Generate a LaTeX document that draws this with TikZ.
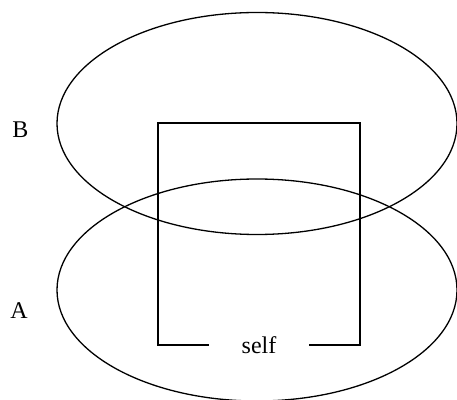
\documentclass[tikz,border=0pt]{standalone}
\usepackage{fontspec}
\setmainfont{Liberation Serif}
\usepackage{tikz}
\usetikzlibrary{shapes.geometric,positioning}

\begin{document}
\begin{tikzpicture}[x=1pt, y=1pt,
  setshape/.style={draw, ellipse, line width=1.3pt, inner sep=0pt, minimum width=400pt, minimum height=222pt},
  setlabel/.style={inner sep=0pt, font=\fontsize{24}{28}\selectfont},
  frame/.style={line width=1.3pt}
]
  \useasboundingbox (0,0) rectangle (457,399);
  \begin{scope}
    \clip (0,0) rectangle (457,399);
    \node[setshape] (setB) at (257,275.5) {};
    \node[setshape] (setA) at (257,109) {};
  \end{scope}
  \node[setlabel] (labB) at (20.5,269) {B};
  \node[setlabel] (labA) at (19,88.5) {A};
  % box round the self
  \node[setlabel, minimum width=100pt] (self) at (259,54) {self};
  \coordinate (bl) at (158,54);
  \coordinate (tl) at (158,276);
  \coordinate (tr) at (360,276);
  \coordinate (br) at (360,54);
  \draw[frame] (self.west) -- (bl) -- (tl) -- (tr) -- (br) -- (self.east);
\end{tikzpicture}
\end{document}
